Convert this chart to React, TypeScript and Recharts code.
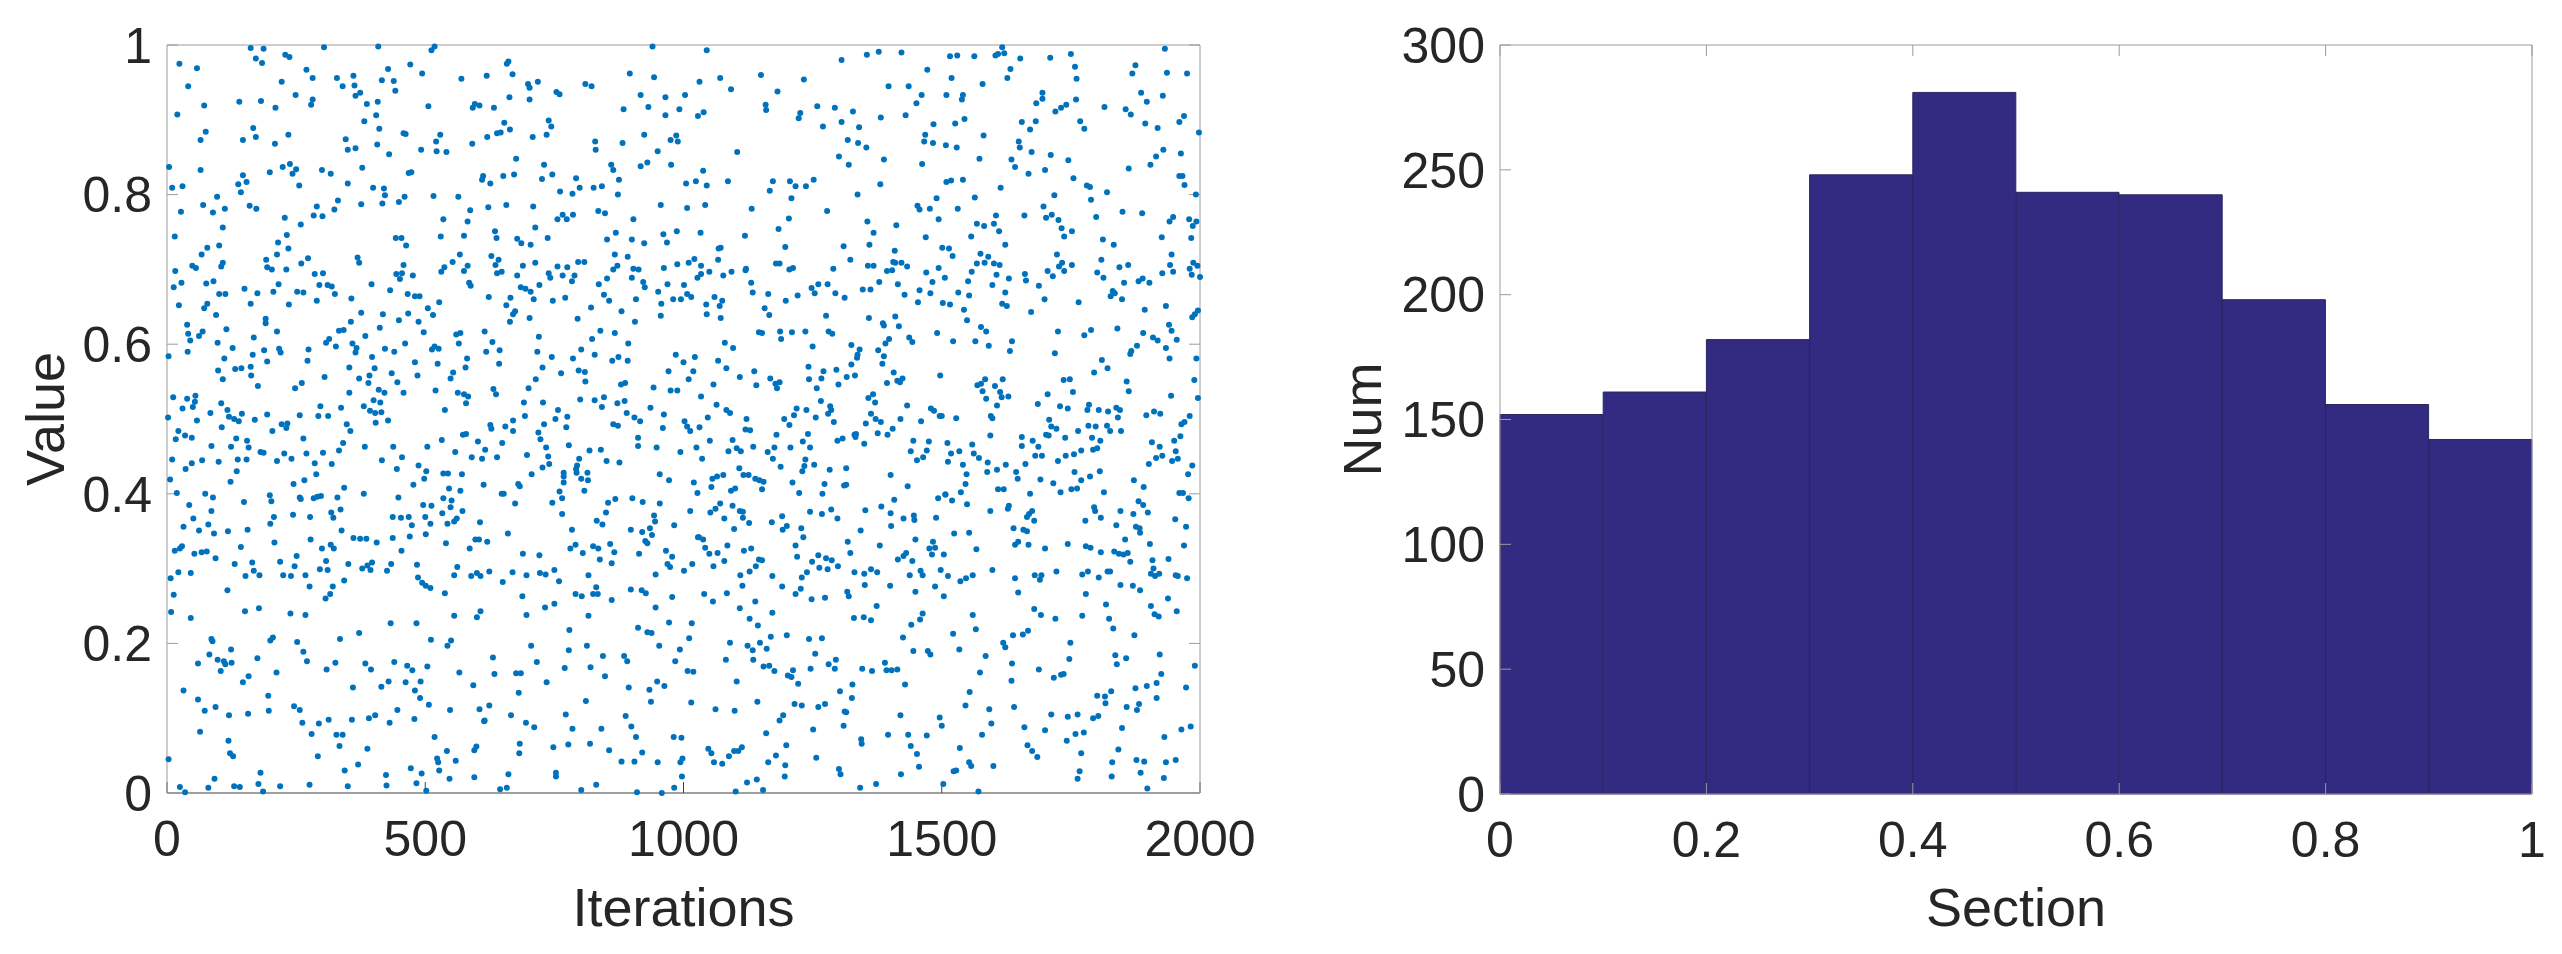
import { Bar, BarChart, Scatter, ScatterChart, XAxis, YAxis } from 'recharts';

const FONT = '"Liberation Sans", Arial, sans-serif';
const TEXT = '#262626';
const BOX = '#9c9c9c';

const iterationTicks = [0, 500, 1000, 1500, 2000];
const valueTicks = [0, 0.2, 0.4, 0.6, 0.8, 1];
const sectionTicks = [0, 0.2, 0.4, 0.6, 0.8, 1];
const numTicks = [0, 50, 100, 150, 200, 250, 300];

// histogram bins
const sectionCenters = [0.05, 0.15, 0.25, 0.35, 0.45, 0.55, 0.65, 0.75, 0.85, 0.95];
const sectionCounts = [152, 161, 182, 248, 281, 241, 240, 198, 156, 142];

// scatter points [iteration, value], one quadrant at a time
const pointsUpperLeft = [
[162,.996],[187,.995],[304,.997],[409,.998],[518,.998],[512,.993],[24,.975],[58,.969],[172,.982],[184,.976],[229,.987],[237,.984],[661,.978],[658,.975],[41,.945],[270,.967],[282,.956],[222,.951],[329,.956],[340,.945],[361,.959],[363,.946],[428,.968],[416,.953],[439,.952],[442,.939],[471,.974],[494,.962],[570,.955],[619,.959],[669,.961],[699,.948],[702,.943],[718,.951],[754,.937],[760,.934],[810,.948],[822,.945],[896,.962],
[249,.933],[282,.927],[279,.920],[140,.924],[182,.925],[210,.916],[72,.919],[20,.907],[374,.936],[365,.932],[387,.921],[408,.924],[506,.918],[663,.930],[702,.927],[596,.921],[592,.916],[605,.919],[633,.916],[884,.914],[917,.933],[932,.917],[405,.906],[382,.898],[411,.888],[167,.889],[75,.884],[65,.873],[147,.873],[172,.877],[235,.880],[209,.868],[346,.874],[350,.860],[365,.862],[407,.867],[430,.854],[458,.882],[462,.881],[492,.860],[529,.880],[521,.871],[522,.858],[541,.857],[591,.868],[620,.877],[639,.882],[646,.883],[653,.896],[664,.887],[708,.877],[735,.880],[744,.891],[739,.899],[829,.871],[830,.860],[882,.869],[924,.880],[676,.848],
[4,.837],[65,.833],[199,.830],[224,.837],[238,.841],[250,.834],[243,.828],[147,.826],[300,.833],[317,.828],[378,.836],[468,.829],[473,.830],[730,.840],[746,.827],[672,.827],[651,.825],[612,.825],[610,.820],[626,.815],[726,.821],[792,.822],[860,.840],[864,.833],[875,.820],[917,.838],[930,.843],
[10,.809],[30,.811],[138,.814],[154,.817],[143,.803],[256,.812],[350,.815],[399,.809],[420,.808],[422,.799],[460,.797],[449,.790],[417,.788],[376,.787],[331,.792],[324,.780],[97,.797],[70,.786],[112,.781],[89,.776],[27,.777],[160,.785],[173,.781],[290,.784],[284,.772],[301,.771],[516,.798],[564,.797],[761,.804],[799,.809],[785,.801],[826,.809],[842,.811],[873,.800],[622,.783],[657,.786],[709,.784],[587,.779],[835,.778],[848,.775],
[228,.769],[259,.760],[535,.767],[582,.764],[756,.767],[766,.773],[774,.767],[786,.773],[903,.767],[108,.756],[15,.744],[232,.746],[215,.736],[235,.728],[530,.744],[575,.745],[635,.751],[638,.742],[713,.756],[737,.742],[678,.741],[686,.735],[704,.733],[443,.742],[454,.742],[463,.732],[852,.740],[869,.749],[900,.740],[924,.735],
[78,.729],[101,.732],[67,.720],[213,.720],[192,.713],[273,.715],[260,.708],[369,.716],[372,.709],[458,.706],[567,.720],[553,.710],[628,.718],[642,.713],[636,.706],[867,.720],[892,.717],[796,.710],[808,.710],[713,.709],[689,.705],
[16,.698],[49,.705],[56,.702],[108,.709],[105,.704],[194,.703],[203,.700],[231,.700],[286,.694],[302,.695],[537,.703],[531,.697],[582,.705],[575,.698],[756,.704],[775,.703],[639,.695],[648,.697],[739,.695],[789,.692],[766,.692],[742,.689],[872,.705],[864,.700],[903,.701],[913,.700],[444,.694],[455,.695],[451,.687],[476,.692],[678,.692],[852,.688],[784,.684],[900,.689],[836,.680],
[28,.682],[13,.676],[76,.681],[90,.684],[216,.680],[150,.674],[206,.670],[295,.679],[311,.679],[319,.677],[325,.667],[252,.670],[264,.669],[396,.680],[432,.672],[585,.682],[588,.678],[721,.679],[685,.676],[694,.674],[704,.670],[922,.683],[925,.676],
[175,.668],[101,.667],[113,.667],[357,.661],[290,.658],[466,.667],[480,.664],[489,.664],[527,.656],[623,.663],[665,.662],[710,.660],[747,.658],[771,.662],[846,.666],[856,.658],[908,.660],
[23,.652],[78,.654],[72,.648],[162,.654],[236,.653],[505,.648],[515,.639],[657,.652],[821,.649],[674,.644],[670,.640],[880,.644],[95,.639],[376,.642],[418,.640],[467,.641],
[191,.634],[191,.628],[356,.630],[449,.632],[487,.630],[702,.635],[664,.630],[795,.634],[906,.630],
[39,.626],[115,.620],[412,.622],[213,.617],[41,.614],[69,.617],[62,.611],[333,.618],[342,.619],[497,.616],[615,.617],[560,.613],[568,.615],[839,.618],[867,.615],
[168,.609],[314,.607],[384,.611],[720,.610],[823,.607],[45,.605],[98,.602],[308,.602],[630,.603],[565,.601],[893,.601],[461,.601],[359,.601],
[127,.595],[327,.597],[188,.592],[217,.594],[274,.593],[367,.595],[365,.589],[422,.594],[440,.590],[513,.593],[518,.597],[526,.594],[618,.590],[644,.592],[717,.590],[802,.593],[40,.590],
[3,.584],[166,.586],[220,.589],[397,.583],[745,.583],[828,.586],[874,.583],[111,.581],[194,.577],[272,.578],[480,.576],[581,.581],[786,.581],[862,.578],[892,.578],[524,.574],[643,.574],
[99,.565],[132,.567],[144,.568],[162,.570],[353,.569],[402,.568],[578,.569],[727,.569],[797,.565],[809,.563],[554,.562],[763,.561],
[163,.558],[435,.561],[392,.558],[485,.558],[305,.556],[372,.554],[108,.553],[549,.554],[390,.548],[446,.549],[714,.553],[810,.550],[261,.548],[176,.544],[879,.546],[887,.548],[248,.541],
[410,.539],[520,.538],[632,.540],[700,.541],[353,.535],[421,.535],[458,.535],[563,.535],[575,.533],[583,.530],[637,.533],[55,.531],[12,.529],[39,.527],[800,.526],[828,.525],[846,.529],[886,.524],[400,.525],[413,.522],[105,.521],[54,.523],[579,.521],[691,.522],[728,.522],[872,.521],
[30,.514],[50,.516],[297,.517],[337,.515],[381,.517],[842,.516],[117,.512],[757,.512],[538,.512],[393,.511],[403,.508],[415,.509],[890,.508],[84,.508],[145,.507],[194,.506],[257,.505],[293,.504],[312,.504],[2,.502],[120,.503],[130,.500],[693,.504],[775,.503],[752,.500],[905,.502],
[139,.497],[58,.498],[170,.499],[428,.498],[404,.495],[670,.498],[916,.497],[233,.494],[222,.493],[348,.493],[730,.493],[864,.493],[873,.491],[626,.492],[655,.490],[106,.489],[231,.488],[773,.489],[628,.487],[670,.484],[204,.484],[22,.484],[355,.484],[579,.480],[573,.479],[719,.482],
[35,.478],[17,.473],[48,.475],[134,.474],[264,.474],[723,.473],[912,.475],[912,.464],[155,.471],[532,.472],[602,.470],[341,.468],[86,.464],[124,.463],[158,.462],[383,.463],[438,.463],[504,.463],[649,.468],[734,.462],[778,.465],[616,.459],
[181,.456],[187,.455],[227,.454],[270,.454],[302,.455],[333,.458],[558,.456],[818,.458],[840,.459],[697,.452],[738,.450],[590,.449],[639,.449],[10,.446],[137,.446],[154,.446],[241,.447],[416,.445],[455,.449],[610,.447],[798,.447],[48,.441],[68,.445],[100,.443],[213,.444],[286,.441],[319,.440],[740,.440],[851,.444],[876,.442],[794,.438],[487,.438],[36,.433],[727,.435],[792,.433],[445,.433],[135,.430],[502,.430],[535,.427],[544,.427],[571,.426],[706,.426],[768,.428],[793,.428],[814,.428],[289,.426],[498,.420],[6,.419],[123,.416],[266,.418],[802,.420],[815,.418],[768,.423],[768,.415],[680,.413],[683,.410],[245,.413],[477,.412],[613,.412],[343,.408],[546,.407],[568,.404],[19,.401],[74,.400],[808,.404],[760,.403],[381,.400],[648,.400],[652,.400],
];

const pointsUpperRight = [
[940,.998],[1045,.993],[1306,.980],[1355,.987],[1378,.991],[1422,.990],[1516,.985],[1530,.986],[1563,.985],[1604,.986],[1609,.988],[1621,.989],[1617,.997],[1652,.982],[1710,.983],[1750,.988],[1932,.995],
[1758,.971],[1875,.973],[1633,.968],[1472,.967],[1869,.962],[1936,.963],[1975,.962],[943,.957],[1071,.956],[1150,.960],[1233,.954],[1519,.956],[1627,.956],[1761,.955],[1031,.951],[1579,.948],[1397,.945],[1436,.945],
[1092,.941],[1182,.938],[1695,.936],[1886,.936],[1003,.933],[1509,.933],[1541,.933],[1461,.933],[965,.930],[1539,.927],[1928,.932],[1695,.928],[1760,.927],[1897,.924],[1683,.922],[1159,.920],[1451,.922],[1741,.920],[1259,.918],[1815,.917],[1293,.916],[1731,.916],[992,.914],[1160,.913],[1856,.914],[1328,.911],[1720,.911],[1226,.909],[1039,.910],[965,.906],[1028,.905],[1866,.907],[1430,.906],[1969,.905],[1223,.902],[1382,.903],[1544,.901],[1682,.898],[1655,.897],[1306,.897],[1768,.898],[1484,.894],[1526,.895],[1894,.895],[1960,.897],[1270,.891],[1340,.890],[1776,.888],[1918,.889],[1671,.887],[1998,.883],[1581,.879],[1468,.880],[986,.879],[975,.873],[989,.871],[1318,.873],[1338,.869],[1466,.871],[1483,.869],[1649,.871],[1508,.866],[1354,.863],[1529,.863],[1651,.863],[1104,.857],[950,.858],[1674,.857],[1929,.860],[1963,.855],[1711,.853],[1301,.851],[1915,.851],[1573,.848],[1388,.847],[1635,.847],[1745,.846],[976,.840],[1320,.840],[1462,.841],[1904,.840],[1642,.837],[1862,.835],[1038,.832],[1700,.833],[1668,.828],[1960,.825],[1966,.825],
[1755,.822],[1252,.820],[1541,.820],[1086,.818],[1173,.818],[1206,.818],[1024,.818],[1509,.817],[1518,.819],[1005,.815],[1381,.814],[1045,.812],[1217,.811],[1237,.811],[1970,.813],[1781,.812],[1787,.810],[1614,.809],[1167,.805],[1820,.803],[1337,.800],[1718,.799],[1992,.800],[1564,.796],[1490,.795],[1209,.795],[1789,.793],[956,.786],[1042,.786],[1453,.785],[1697,.784],[1007,.782],[1132,.781],[1457,.780],[1477,.781],[1531,.781],[1278,.778],[1850,.777],[1888,.775],[1605,.772],[1660,.772],[1713,.773],[1702,.769],[1799,.770],[1204,.768],[1494,.767],[1948,.770],[1979,.767],[1356,.764],[1726,.766],[1941,.764],[1993,.764],[1568,.761],[1601,.761],[1412,.759],[1582,.758],[1986,.758],[1184,.754],[1732,.755],[1611,.751],[1752,.751],[987,.751],[1033,.749],[1368,.749],[1119,.745],[961,.747],[1469,.743],[1557,.744],[1737,.744],[1926,.743],[1812,.740],[1983,.742],[968,.736],[1360,.733],[1623,.733],[1833,.733],[1310,.731],[1197,.730],[1072,.729],[1068,.728],[1501,.729],[1514,.728],[1409,.725],[1575,.721],[1723,.720],[1945,.720],[1521,.718],[1590,.717],[1021,.714],[1067,.713],[1809,.713],[1323,.713],[1406,.710],[1422,.709],[1410,.709],[1010,.709],[1179,.708],[1186,.708],[988,.707],[1568,.708],[1583,.709],[1601,.708],[1612,.706],[1733,.709],[1752,.706],[1861,.706],[1987,.709],[1034,.705],[1357,.705],[1368,.705],[1433,.704],[1942,.706],[1995,.705],[962,.702],[1727,.704],[1494,.702],[1844,.703],[1121,.701],[1212,.702],[1290,.701],[1205,.700],[1980,.701],[1050,.697],[1093,.697],[1120,.699],[1394,.698],[1404,.699],[1705,.698],[1737,.698],[1948,.697],[1801,.696],[1470,.696],[1558,.697],[1034,.694],[1661,.694],[1606,.693],[1927,.695],[1984,.693],[1027,.689],[1077,.692],[1506,.689],[1715,.691],[1813,.689],[2000,.690],[1630,.688],[1663,.685],[1881,.684],[1889,.688],[1551,.684],[1482,.683],[1379,.683],[1902,.682],[1853,.682],[1131,.682],[969,.680],[1415,.680],[1001,.679],[1261,.680],[1279,.680],[1598,.679],[1688,.678],[1248,.675],[1347,.673],[1362,.673],[1457,.672],[951,.670],[1134,.669],[1254,.668],[1478,.668],[1532,.669],[1623,.669],[1831,.671],[1835,.668],[1007,.667],[1164,.667],[1294,.668],[1221,.665],[1428,.666],[1553,.665],[1827,.664],[1015,.663],[1060,.663],[1312,.662],[1699,.660],[1849,.660],[980,.660],[995,.660],[1075,.658],[1198,.658],[1454,.656],[1765,.656],[957,.654],[1044,.653],[1070,.651],[1502,.655],[1516,.653],[1617,.654],[1626,.651],[1934,.651],[1157,.648],[1543,.646],[1893,.646],[1673,.643],[1996,.645],[1045,.640],[956,.638],[1166,.639],[1276,.638],[1990,.640],[1985,.636],[1072,.635],[1359,.635],[1410,.637],[1549,.632],[1386,.628],[1388,.625],[1940,.626],[1417,.624],[1576,.623],[1840,.621],[1789,.619],[1586,.617],[1945,.618],[1146,.616],[1152,.615],[1187,.617],[1210,.616],[1236,.617],[1281,.617],[1288,.614],[1491,.615],[1725,.617],[1890,.615],[1776,.612],[1189,.607],[1398,.607],[1437,.609],[1909,.609],[1918,.605],[1522,.604],[1565,.604],[1636,.604],[1443,.603],[1955,.606],[1391,.601],[1080,.602],[1325,.599],[1591,.598],[1250,.597],[1878,.598],[1096,.595],[1934,.595],[1341,.593],[1377,.592],[1632,.591],[1867,.591],[1719,.588],[1865,.587],[985,.586],[1337,.586],[1388,.584],[1022,.583],[1336,.582],[1941,.581],[1993,.581],[1067,.578],[1810,.579],[1000,.576],[1385,.574],[1325,.573],[1242,.570],[1083,.568],[1821,.568],[1296,.566],[1019,.564],[971,.564],[1137,.564],[1271,.564],[1407,.562],[1795,.562],[1332,.558],[1497,.558],[1316,.556],[1109,.556],[1010,.553],[1168,.554],[1243,.553],[1267,.554],[1424,.554],[1618,.553],[1736,.552],[1748,.553],[1584,.553],[1989,.552],[1414,.551],[1419,.549],[1858,.550],[1186,.549],[1178,.547],[1394,.548],[1576,.547],[1569,.545],[1058,.546],[1141,.545],[1300,.546],[1603,.544],[942,.542],[1181,.541],[1258,.541],[975,.538],[988,.538],[1579,.537],[1754,.536],[1613,.536],[1862,.537],[1705,.533],[1367,.533],[1034,.530],[1944,.531],[1358,.528],[1616,.529],[1629,.530],[1586,.527],[1996,.528],[1266,.524],[1371,.522],[1064,.519],[1686,.520],[1433,.518],[1607,.518],[1729,.517],[1785,.519],[1284,.517],[936,.515],[1219,.514],[1238,.512],[1479,.514],[1485,.511],[1744,.514],[1782,.512],[1804,.512],[1838,.515],[1845,.512],[1822,.510],[1083,.512],[1090,.508],[1286,.512],[1280,.507],[1911,.510],[1923,.507],[962,.506],[1214,.505],[1363,.507],[1896,.505],[1496,.504],[1500,.504],[1595,.504],[1047,.502],[1122,.500],[1195,.500],[1256,.502],[1372,.500],[1420,.500],[1528,.501],[1598,.501],[1841,.502],[1980,.504],[1708,.499],[1002,.497],[1291,.496],[1460,.497],[1382,.496],[1970,.496],[1964,.493],[1353,.494],[1205,.492],[1007,.490],[1031,.489],[960,.488],[1784,.491],[1798,.490],[1820,.491],[1712,.490],[1722,.487],[1013,.484],[1120,.486],[1129,.485],[1405,.487],[1826,.484],[1847,.484],[1764,.484],[1376,.481],[1395,.479],[1241,.480],[1180,.479],[1334,.480],[1331,.479],[1702,.479],[1707,.478],[1594,.478],[1962,.477],[1333,.476],[1655,.476],[1739,.475],[1791,.475],[1051,.471],[1095,.472],[1298,.471],[1308,.474],[1445,.471],[1475,.470],[1676,.471],[1807,.471],[1950,.471],[1231,.470],[1350,.467],[1511,.468],[1559,.466],[1907,.469],[1655,.464],[948,.462],[1025,.462],[1103,.461],[1135,.463],[1176,.462],[1207,.462],[1245,.462],[1687,.463],[1922,.463],[1111,.457],[994,.456],[1087,.457],[1163,.456],[1440,.457],[1471,.458],[1534,.457],[1770,.458],[1793,.459],[1801,.461],[1756,.453],[1953,.457],[1518,.454],[1562,.454],[1681,.451],[1694,.451],[1740,.451],[1927,.451],[1036,.447],[1173,.447],[1572,.448],[1915,.448],[1464,.449],[1236,.446],[1452,.445],[1946,.444],[1957,.447],[1512,.443],[1725,.444],[1589,.442],[1253,.439],[1901,.440],[1234,.437],[1541,.439],[1624,.439],[1662,.440],[1188,.436],[1985,.438],[1108,.434],[1283,.432],[1315,.434],[1607,.432],[1230,.430],[1548,.426],[1588,.429],[1644,.429],[1757,.429],[1806,.430],[1977,.426],[954,.426],[1077,.425],[1116,.425],[1126,.425],[1065,.423],[1056,.420],[1401,.425],[1647,.420],[972,.418],[1139,.420],[1147,.418],[1155,.416],[1211,.415],[1691,.419],[1770,.418],[1787,.423],[1020,.415],[1273,.413],[1315,.412],[1311,.411],[1054,.409],[1546,.413],[1716,.414],[1434,.410],[1872,.418],[1891,.409],[1152,.406],[1100,.407],[1092,.404],[1609,.406],[1620,.406],[1224,.401],[1269,.400],[1027,.401],[1507,.399],[1537,.402],[1671,.400],[1730,.402],[1751,.406],[1762,.407],[1814,.402],[1960,.401],[1967,.401],
];

const pointsLowerLeft = [
[89,.395],[199,.398],[202,.390],[257,.395],[259,.393],[284,.394],[291,.396],[298,.397],[330,.395],[448,.395],[149,.389],[43,.385],[496,.385],[512,.384],[535,.394],[551,.391],[674,.387],[746,.388],[765,.394],[854,.388],[868,.393],[901,.394],[921,.389],[954,.387],
[336,.379],[318,.375],[86,.377],[549,.382],[572,.377],[850,.375],[1013,.377],[943,.371],[765,.373],[51,.367],[207,.369],[244,.372],[277,.369],[322,.368],[437,.369],[453,.368],[468,.369],[500,.369],[533,.374],[561,.367],[556,.363],
[80,.359],[32,.356],[200,.360],[474,.358],[510,.360],[543,.360],[606,.362],[832,.364],[843,.359],[945,.363],[982,.358],
[62,.351],[118,.350],[156,.352],[91,.347],[338,.351],[784,.352],[898,.352],[920,.349],[935,.354],[939,.345],[660,.347],[361,.341],[374,.340],[386,.340],[437,.341],[470,.343],[501,.346],[278,.339],[597,.339],[604,.339],[1028,.342],
[208,.335],[406,.335],[540,.334],[620,.336],[926,.337],[930,.334],[317,.332],[858,.333],[791,.332],[825,.330],[143,.329],[300,.327],[323,.327],[586,.327],[781,.327],[835,.327],[15,.324],[29,.330],[25,.327],[454,.324],
[53,.320],[67,.322],[77,.323],[689,.320],[805,.321],[866,.322],[914,.320],[966,.324],[251,.317],[721,.318],[978,.316],[94,.314],[838,.312],[219,.309],[165,.308],[308,.310],[131,.306],[351,.306],[397,.308],[434,.306],[484,.305],[247,.303],[861,.307],[969,.306],[1017,.306],[388,.304],[562,.302],[378,.300],[296,.299],[311,.298],[394,.298],[426,.297],[974,.302],[22,.295],[46,.294],[168,.297],[624,.296],[669,.295],[750,.298],[1001,.297],[722,.294],[733,.292],[600,.294],[152,.290],[179,.291],[225,.291],[240,.290],[268,.291],[556,.291],[589,.290],[607,.290],[696,.291],[816,.291],[946,.292],[7,.287],[486,.288],[343,.284],[759,.283],[494,.281],[650,.282],[276,.276],[321,.276],[501,.277],[510,.274],[831,.275],[117,.271],[898,.272],[919,.271],[316,.266],[927,.267],[13,.265],[791,.266],[825,.266],[834,.266],[803,.263],[688,.263],[538,.267],[307,.260],[978,.262],[861,.258],
[750,.253],[732,.248],[946,.248],[178,.247],[151,.243],[8,.242],[607,.243],[239,.240],[268,.238],[696,.238],[816,.237],[556,.237],[46,.234],[600,.235],[972,.228],[433,.227],[483,.227],[1016,.227],[779,.218],[912,.221],[930,.215],[938,.214],[372,.214],[86,.206],[205,.208],[200,.204],[511,.205],[550,.204],[1011,.207],[335,.206],[88,.203],[252,.202],[543,.197],[705,.197],[813,.197],[953,.197],[124,.192],[264,.189],[778,.191],[993,.192],[82,.185],[175,.180],[631,.181],[844,.183],[885,.183],[891,.176],[98,.178],[110,.176],[125,.174],[60,.173],[113,.172],[271,.176],[326,.174],[384,.173],[440,.175],[716,.175],[984,.176],[465,.170],[475,.164],[504,.169],[309,.165],[395,.165],[770,.167],[820,.168],[1008,.163],[1019,.162],[104,.163],[212,.161],[566,.161],[676,.160],[685,.160],[634,.159],[158,.156],[848,.156],[147,.148],[429,.149],[462,.148],[491,.149],[735,.148],[949,.149],[593,.144],[963,.143],[360,.141],[415,.142],[894,.141],[32,.137],[480,.137],[934,.138],[681,.134],[196,.130],[490,.127],[60,.125],[811,.123],[937,.122],[1015,.121],[507,.118],[246,.116],[94,.115],[624,.117],[257,.111],[197,.110],[73,.110],[548,.111],[605,.112],[446,.111],[157,.106],[120,.104],[403,.104],[772,.105],[666,.104],[391,.100],[358,.098],[313,.098],[479,.099],[888,.103],[615,.097],[614,.096],[262,.094],[294,.093],[431,.094],[695,.094],[711,.088],[899,.089],[785,.086],[841,.086],[64,.082],[280,.079],[328,.078],[340,.078],[518,.075],[908,.075],[981,.075],[996,.074],[119,.070],[334,.063],[683,.066],[777,.065],[819,.066],[748,.061],[599,.062],[388,.059],[595,.057],[856,.057],[542,.056],[682,.053],[122,.053],[128,.049],[292,.049],[920,.054],[3,.045],[523,.046],[559,.043],[525,.041],[880,.042],[905,.042],[950,.041],[998,.046],[994,.041],[370,.038],[344,.030],[472,.033],[527,.030],[181,.027],[493,.026],[424,.024],[661,.025],[753,.027],[753,.022],[997,.022],[92,.019],[547,.019],[595,.021],[177,.012],[483,.013],[25,.008],[80,.007],[130,.009],[141,.008],[219,.009],[276,.011],[350,.009],[425,.010],[658,.007],[645,.005],[831,.011],[982,.007],[35,.001],[186,.002],[502,.003],[802,.004],[910,.001],[958,0],
];

const pointsLowerRight = [
[1978,.394],[1549,.386],[1493,.394],[1507,.399],[1520,.391],[1408,.392],[1881,.390],[1890,.385],[1071,.387],[1095,.384],[1062,.380],[1052,.375],[1109,.377],[1115,.376],[1245,.376],[1286,.379],[1268,.373],[1352,.378],[1383,.383],[1401,.374],[1446,.371],[1594,.377],[1630,.384],[1628,.380],[1675,.377],[1669,.373],[1665,.369],[1795,.382],[1797,.377],[1846,.377],[1871,.373],[1899,.375],[1079,.367],[1115,.368],[1191,.370],[1298,.367],[1426,.367],[1447,.365],[1489,.368],[1808,.368],[1952,.366],[1127,.361],[1171,.362],[1679,.364],[1778,.364],[1098,.353],[1200,.357],[1192,.352],[1228,.354],[1402,.357],[1838,.358],[1876,.356],[1883,.354],[1973,.356],[1639,.354],[1658,.352],[1665,.350],[1343,.351],[1524,.347],[1553,.348],[1884,.348],[1030,.342],[1038,.339],[1232,.342],[1449,.339],[1855,.339],[1318,.336],[1483,.336],[1648,.336],[1642,.332],[1668,.332],[1744,.333],[1903,.333],[1085,.331],[1217,.331],[1380,.331],[1969,.331],[1779,.330],[1788,.328],[1042,.328],[1476,.327],[1487,.328],[1700,.327],[1117,.324],[1131,.327],[1567,.326],[1323,.321],[1050,.320],[1066,.321],[1808,.322],[1834,.323],[1843,.320],[1852,.319],[1860,.321],[1431,.321],[1426,.317],[1481,.319],[1504,.319],[1220,.316],[1415,.312],[1261,.318],[1276,.314],[1287,.311],[1443,.310],[1146,.312],[1152,.311],[1079,.310],[1249,.309],[1865,.309],[1908,.311],[1939,.313],[1058,.303],[1140,.303],[1263,.301],[1279,.299],[1299,.303],[1498,.298],[1598,.298],[1910,.300],[1110,.291],[1128,.296],[1239,.295],[1331,.295],[1350,.293],[1363,.299],[1375,.295],[1459,.297],[1821,.296],[1826,.296],[1783,.296],[1722,.296],[1772,.292],[1905,.293],[1921,.293],[1913,.290],[1172,.290],[1438,.291],[1463,.291],[1560,.291],[1512,.290],[1680,.291],[1693,.291],[1953,.291],[1957,.290],[1975,.287],[1229,.288],[1642,.287],[1690,.285],[1547,.287],[1804,.288],[1536,.283],[1114,.277],[1191,.276],[1351,.278],[1400,.277],[1487,.276],[1846,.278],[1870,.277],[1227,.273],[1884,.271],[1217,.266],[1084,.267],[1040,.266],[1317,.269],[1449,.269],[1648,.268],[1779,.266],[1320,.263],[1504,.263],[1057,.256],[1248,.259],[1274,.261],[1139,.256],[1938,.260],[1374,.250],[1818,.252],[1109,.247],[1905,.250],[1679,.246],[1955,.243],[1172,.241],[1692,.238],[1463,.240],[1560,.238],[1772,.237],[1912,.239],[1920,.236],[1330,.234],[1349,.235],[1363,.231],[1458,.232],[1128,.233],[1720,.233],[1824,.233],[1144,.224],[1441,.225],[1566,.219],[1832,.220],[1667,.217],[1638,.211],[1657,.212],[1522,.213],[1873,.211],[1169,.209],[1200,.211],[1243,.206],[1268,.207],[1425,.208],[1090,.201],[1619,.201],[1749,.201],[1148,.201],[1124,.197],[1623,.195],[1161,.193],[1134,.191],[1534,.192],[1445,.190],[1473,.190],[1255,.186],[1478,.185],[1836,.184],[1922,.185],[1585,.183],[1747,.179],[1857,.180],[1082,.178],[1135,.178],[1295,.178],[1636,.173],[1281,.172],[1390,.174],[1839,.172],[1990,.170],[1155,.169],[1166,.170],[1246,.166],[1293,.166],[1346,.166],[1365,.163],[1393,.164],[1403,.164],[1414,.165],[1212,.164],[1176,.163],[1688,.165],[1574,.161],[1925,.159],[1202,.157],[1209,.155],[1717,.154],[1731,.158],[1736,.159],[1103,.149],[1635,.150],[1222,.146],[1327,.145],[1429,.145],[1916,.147],[1897,.143],[1875,.140],[1973,.141],[1303,.136],[1554,.135],[1828,.136],[1801,.130],[1816,.129],[1326,.127],[1916,.127],[1143,.122],[1817,.120],[1215,.119],[1229,.117],[1274,.119],[1261,.115],[1546,.117],[1882,.119],[1858,.115],[1640,.115],[1062,.112],[1099,.110],[1592,.112],[1878,.111],[1312,.109],[1315,.108],[1712,.105],[1744,.102],[1763,.105],[1193,.104],[1420,.104],[1803,.103],[1793,.100],[1186,.097],[1496,.101],[1596,.093],[1500,.090],[1310,.090],[1982,.089],[1964,.085],[1251,.085],[1660,.088],[1700,.084],[1849,.087],[1160,.080],[1775,.081],[1759,.079],[1396,.078],[1435,.078],[1471,.077],[1578,.078],[1344,.072],[1931,.075],[1742,.070],[1345,.066],[1199,.064],[1440,.063],[1666,.064],[1048,.059],[1113,.061],[1106,.056],[1098,.056],[1054,.053],[1535,.060],[1675,.056],[1842,.058],[1452,.052],[1770,.053],[1179,.050],[1088,.049],[1257,.047],[1685,.048],[1059,.041],[1075,.039],[1164,.041],[1197,.037],[1553,.041],[1557,.036],[1600,.036],[1456,.035],[1830,.041],[1877,.044],[1892,.042],[1934,.041],[1953,.044],[1301,.032],[1528,.030],[1523,.029],[1767,.029],[1885,.027],[1304,.025],[1421,.025],[1196,.022],[1829,.022],[1930,.020],[1763,.019],[1142,.018],[1123,.014],[1373,.012],[1503,.012],[1342,.007],[1898,.006],[1154,.004],[1101,.002],[1571,.002],
];

const scatterData = [...pointsUpperLeft, ...pointsUpperRight, ...pointsLowerLeft, ...pointsLowerRight].map(
  ([iteration, value]) => ({ iteration, value })
);
const histData = sectionCenters.map((center, i) => ({ center, count: sectionCounts[i] }));

const tickStyle = { fontSize: 50, fontFamily: FONT, fill: TEXT };
const labelStyle = { fontSize: 54, fontFamily: FONT, fill: TEXT };
const noLabel = () => <g />;

const Dot = (props: any) => <circle cx={props.cx} cy={props.cy} r={3} fill="#0072bd" />;

export default function App() {
  return (
    <div style={{ position: 'absolute', left: 0, top: 0, width: 2562, height: 954, background: '#fff' }}>
      <div style={{ position: 'absolute', left: 0, top: 0 }}>
        <ScatterChart width={1281} height={954} margin={{ top: 44, right: 80, bottom: 10, left: 10 }}>
          <XAxis
            type="number"
            dataKey="iteration"
            domain={[0, 2000]}
            ticks={iterationTicks}
            interval={0}
            height={151}
            tickSize={-11}
            tickMargin={38}
            tick={tickStyle}
            stroke="#404040"
            label={{ value: 'Iterations', position: 'insideBottom', offset: 18, style: labelStyle }}
          />
          <XAxis xAxisId="top" orientation="top" type="number" allowDataOverflow domain={[0, 2000]} ticks={iterationTicks} interval={0} height={1} tickSize={-11} tick={noLabel} stroke={BOX} />
          <YAxis
            type="number"
            dataKey="value"
            domain={[0, 1]}
            ticks={valueTicks}
            interval={0}
            width={157}
            tickSize={-11}
            tickMargin={26}
            tick={tickStyle}
            stroke={BOX}
            label={{ value: 'Value', angle: -90, position: 'insideLeft', offset: 35, style: { ...labelStyle, textAnchor: 'middle' } }}
          />
          <YAxis yAxisId="right" orientation="right" type="number" allowDataOverflow domain={[0, 1]} ticks={valueTicks} interval={0} width={1} tickSize={-11} tick={noLabel} stroke={BOX} />
          <Scatter data={scatterData} shape={Dot} isAnimationActive={false} />
        </ScatterChart>
      </div>
      <div style={{ position: 'absolute', left: 1281, top: 0 }}>
        <BarChart width={1281} height={954} data={histData} barCategoryGap={0} barGap={0} margin={{ top: 44, right: 29, bottom: 10, left: 10 }}>
          <XAxis xAxisId="bins" type="category" dataKey="center" hide />
          <XAxis
            type="number"
            dataKey="center"
            allowDataOverflow
            domain={[0, 1]}
            ticks={sectionTicks}
            interval={0}
            height={150}
            tickSize={-11}
            tickMargin={38}
            tick={tickStyle}
            stroke={BOX}
            label={{ value: 'Section', position: 'insideBottom', offset: 18, style: labelStyle }}
          />
          <XAxis xAxisId="top" orientation="top" type="number" dataKey="center" allowDataOverflow domain={[0, 1]} ticks={sectionTicks} interval={0} height={1} tickSize={-11} tick={noLabel} stroke={BOX} />
          <YAxis
            type="number"
            domain={[0, 300]}
            ticks={numTicks}
            interval={0}
            width={209}
            tickSize={-11}
            tickMargin={26}
            tick={tickStyle}
            stroke={BOX}
            label={{ value: 'Num', angle: -90, position: 'insideLeft', offset: 71, style: { ...labelStyle, textAnchor: 'middle' } }}
          />
          <YAxis yAxisId="right" orientation="right" type="number" domain={[0, 300]} ticks={numTicks} interval={0} width={1} tickSize={-11} tick={noLabel} stroke={BOX} />
          <Bar xAxisId="bins" dataKey="count" fill="#332a82" stroke="#2b2660" strokeWidth={1} isAnimationActive={false} />
        </BarChart>
      </div>
    </div>
  );
}
